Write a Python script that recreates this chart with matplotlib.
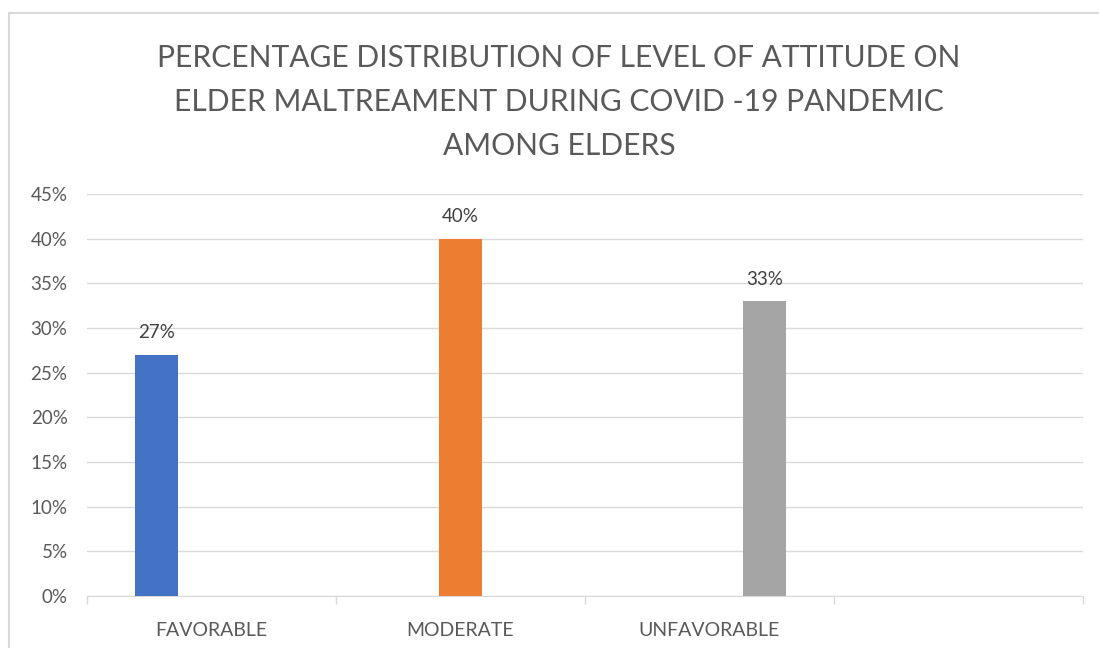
import matplotlib
matplotlib.use("Agg")
import matplotlib.pyplot as plt
import numpy as np
from matplotlib.patches import Rectangle

categories = ["FAVORABLE", "MODERATE", "UNFAVORABLE", ""]
series_names = ["Favorable", "Moderate", "Unfavorable"]
series_values = [
    [27, np.nan, np.nan, np.nan],
    [np.nan, 40, np.nan, np.nan],
    [np.nan, np.nan, 33, np.nan],
]
colors = ["#4472C4", "#ED7D31", "#A5A5A5"]
yticks = [0, 5, 10, 15, 20, 25, 30, 35, 40, 45]
title = "PERCENTAGE DISTRIBUTION OF LEVEL OF ATTITUDE ON\nELDER MALTREAMENT DURING COVID -19 PANDEMIC\nAMONG ELDERS"

plt.rcParams['font.family'] = ['Lato', 'DejaVu Sans']
W, H = 1099, 648
fig = plt.figure(figsize=(W / 100, H / 100), dpi=100)
fig.patch.set_facecolor("white")

# chart border (partially cropped)
fig.add_artist(Rectangle((9 / W, -0.1), 1.2, (648 - 13) / H + 0.1, transform=fig.transFigure,
                         fill=False, edgecolor="#D9D9D9", linewidth=1.5))

ax = fig.add_axes([87 / W, 52 / H, (1083 - 87) / W, (596 - 194) / H])
x = np.arange(len(categories))
bw = 43 / 249
offs = [-55 / 249, 0, 55 / 249]
for i, (vals, c) in enumerate(zip(series_values, colors)):
    v = np.array(vals, dtype=float)
    ax.bar(x + offs[i], np.nan_to_num(v), width=bw, color=c, zorder=3)
    for xi, vi in zip(x, v):
        if not np.isnan(vi):
            ax.text(xi + offs[i], vi + 1.5, f"{vi:.0f}%", ha="center", va="bottom",
                    fontsize=13.5, color="#404040")

ax.set_xlim(-0.5, len(categories) - 0.5)
ax.set_ylim(0, 45)
ax.set_yticks(yticks)
ax.set_yticklabels([f"{t}%" for t in yticks], fontsize=13.5, color="#595959")
ax.yaxis.grid(True, color="#D9D9D9", linewidth=1, zorder=0)
ax.tick_params(axis="y", length=0, pad=14)
ax.set_xticks(x)
ax.set_xticklabels(categories, fontsize=14, color="#595959")
ax.set_xticks(np.arange(len(categories) + 1) - 0.5, minor=True)
ax.tick_params(axis="x", which="major", length=0, pad=19)
ax.tick_params(axis="x", which="minor", length=6, color="#D9D9D9", width=1)
for s in ["top", "right", "left"]:
    ax.spines[s].set_visible(False)
ax.spines["bottom"].set_color("#D9D9D9")
ax.set_axisbelow(True)

fig.text(559 / W, 1 - 102 / H, title, ha="center", va="center", fontsize=21.6,
         color="#595959", linespacing=1.7)

fig.savefig("out.png", dpi=100)
